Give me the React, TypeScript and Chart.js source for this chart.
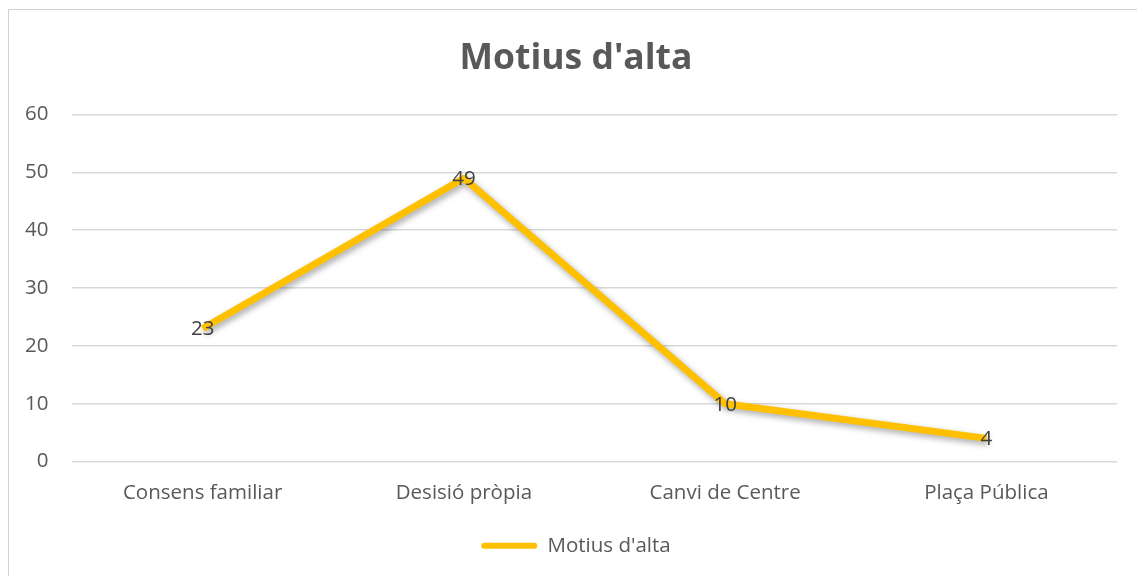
import React, { useEffect, useRef } from "react";
import { Chart, registerables } from "chart.js";

Chart.register(...registerables);

const categories = ["Consens familiar", "Desisió pròpia", "Canvi de Centre", "Plaça Pública"];
const seriesLabel = "Motius d'alta";
const seriesValues = [23, 49, 10, 4];
const yTicks = [0, 10, 20, 30, 40, 50, 60];
const chartTitle = "Motius d'alta";

const LINE_COLOR = "#FFC000";
const TEXT_COLOR = "#595959";
const FONT = "'Open Sans', sans-serif";

const shadowPlugin = {
  id: "lineShadow",
  beforeDatasetsDraw(chart: any) {
    const ctx = chart.ctx;
    ctx.save();
    ctx.shadowColor = "rgba(0,0,0,0.35)";
    ctx.shadowBlur = 6;
    ctx.shadowOffsetX = 2;
    ctx.shadowOffsetY = 3;
  },
  afterDatasetsDraw(chart: any) {
    const ctx = chart.ctx;
    ctx.restore();
    ctx.save();
    ctx.font = `20.5px ${FONT}`;
    ctx.fillStyle = "#404040";
    ctx.textAlign = "center";
    ctx.textBaseline = "middle";
    chart.data.datasets.forEach((ds: any, di: number) => {
      const meta = chart.getDatasetMeta(di);
      meta.data.forEach((pt: any, i: number) => {
        ctx.fillText(String(ds.data[i]), pt.x, pt.y + 1);
      });
    });
    ctx.restore();
  },
};

export default function App() {
  const canvasRef = useRef<HTMLCanvasElement | null>(null);

  useEffect(() => {
    if (!canvasRef.current) return;
    const chart = new Chart(canvasRef.current, {
      type: "line",
      data: {
        labels: categories,
        datasets: [
          {
            label: seriesLabel,
            data: seriesValues,
            borderColor: LINE_COLOR,
            backgroundColor: LINE_COLOR,
            borderWidth: 7,
            pointRadius: 0,
            pointHoverRadius: 0,
            tension: 0,
            borderJoinStyle: "round",
            borderCapStyle: "butt",
            fill: false,
          },
        ],
      },
      options: {
        animation: false,
        responsive: true,
        maintainAspectRatio: false,
        layout: { padding: { left: 35, right: 35, top: 0, bottom: 10 } },
        plugins: {
          title: {
            display: true,
            text: chartTitle,
            color: TEXT_COLOR,
            font: { family: FONT, size: 35.5, weight: "bold" },
            padding: { top: 38, bottom: 34 },
          },
          legend: {
            display: true,
            position: "bottom",
            labels: {
              color: TEXT_COLOR,
              font: { family: FONT, size: 20.5 },
              boxWidth: 56,
              boxHeight: 6,
              useBorderRadius: true,
              borderRadius: 3,
              padding: 10,
              generateLabels: (c: any) =>
                c.data.datasets.map((ds: any, i: number) => ({
                  text: ds.label,
                  fillStyle: ds.borderColor,
                  strokeStyle: ds.borderColor,
                  lineWidth: 0,
                  fontColor: TEXT_COLOR,
                  hidden: false,
                  datasetIndex: i,
                  borderRadius: 3,
                })),
            },
          },
          tooltip: { enabled: false },
        },
        scales: {
          x: {
            offset: true,
            grid: { display: false, drawTicks: false, offset: true },
            border: { display: false },
            ticks: {
              color: TEXT_COLOR,
              font: { family: FONT, size: 20.5 },
              padding: 19,
            },
            afterFit: (scale: any) => {
              scale.height = 64;
            },
          },
          y: {
            min: 0,
            max: 60,
            grid: { color: "#d9d9d9", lineWidth: 1.6, drawTicks: false },
            border: { display: false },
            afterBuildTicks: (scale: any) => {
              scale.ticks = yTicks.map((v) => ({ value: v }));
            },
            afterFit: (scale: any) => {
              scale.width = 37;
            },
            ticks: {
              color: TEXT_COLOR,
              font: { family: FONT, size: 20.5 },
              mirror: true,
              crossAlign: "far",
              padding: -47,
              stepSize: 10,
            },
          },
        },
      },
      plugins: [shadowPlugin],
    });
    return () => chart.destroy();
  }, []);

  return (
    <div style={{ position: "fixed", left: 0, top: 0, width: 1137, height: 576, overflow: "hidden", background: "#fff" }}>
      <div
        style={{
          position: "absolute",
          left: 8,
          top: 9,
          width: 1150,
          height: 600,
          border: "1px solid #d0d0d0",
          boxSizing: "border-box",
        }}
      />
      <div style={{ position: "absolute", left: 0, top: 0, width: 1152, height: 576 }}>
        <canvas ref={canvasRef} />
      </div>
    </div>
  );
}
